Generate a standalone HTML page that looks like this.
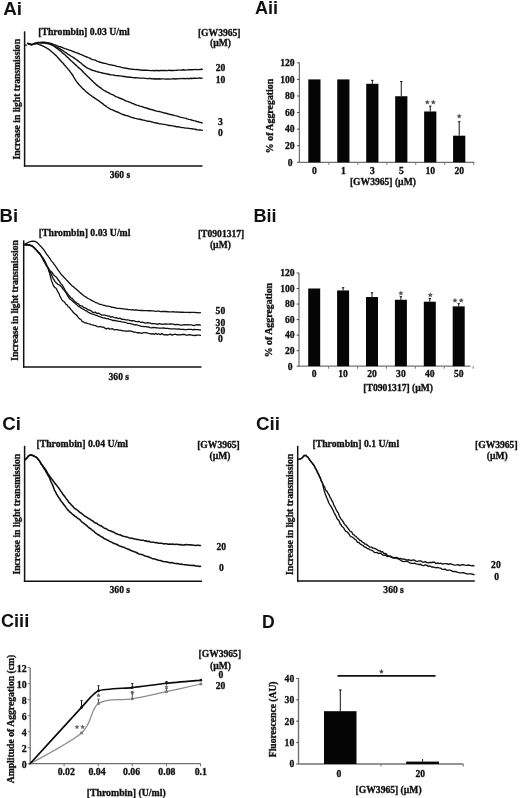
<!DOCTYPE html>
<html><head><meta charset="utf-8"><style>
html,body{margin:0;padding:0;background:#fff;}
body{width:520px;height:798px;overflow:hidden;}
svg{display:block;filter:blur(0.35px);}
</style></head><body>
<svg width="520" height="798" viewBox="0 0 520 798">
<rect width="520" height="798" fill="#fff"/>
<text x="0" y="0" font-family='"Liberation Sans", sans-serif' font-weight="bold" font-size="17.6" text-anchor="start" fill="#111" transform="translate(3.2 14.5) scale(1.07 1)">Ai</text>
<text x="0" y="0" font-family='"Liberation Sans", sans-serif' font-weight="bold" font-size="17.6" text-anchor="start" fill="#111" transform="translate(255.0 14.2) scale(1.03 1)">Aii</text>
<text x="0" y="0" font-family='"Liberation Sans", sans-serif' font-weight="bold" font-size="17.6" text-anchor="start" fill="#111" transform="translate(-0.4 222.3) scale(1.05 1)">Bi</text>
<text x="0" y="0" font-family='"Liberation Sans", sans-serif' font-weight="bold" font-size="17.6" text-anchor="start" fill="#111" transform="translate(253.4 222.3) scale(1.03 1)">Bii</text>
<text x="0" y="0" font-family='"Liberation Sans", sans-serif' font-weight="bold" font-size="17.6" text-anchor="start" fill="#111" transform="translate(2.2 429.6) scale(1.06 1)">Ci</text>
<text x="0" y="0" font-family='"Liberation Sans", sans-serif' font-weight="bold" font-size="17.6" text-anchor="start" fill="#111" transform="translate(255.9 429.6) scale(1.07 1)">Cii</text>
<text x="0" y="0" font-family='"Liberation Sans", sans-serif' font-weight="bold" font-size="17.6" text-anchor="start" fill="#111" transform="translate(1.0 626.7) scale(1.03 1)">Ciii</text>
<text x="261.9" y="627.6" font-family='"Liberation Sans", sans-serif' font-weight="bold" font-size="17.6" text-anchor="start" fill="#111">D</text>
<line x1="24.6" y1="31.3" x2="24.6" y2="166.7" stroke="#111" stroke-width="1.5"/>
<line x1="23.900000000000002" y1="166.0" x2="202.5" y2="166.0" stroke="#111" stroke-width="1.5"/>
<text x="38.2" y="34.8" font-family='"Liberation Serif", serif' font-weight="bold" font-size="9.75" text-anchor="start" fill="#111" stroke="#111" stroke-width="0.32">[Thrombin] 0.03 U/ml</text>
<text x="219.2" y="35.8" font-family='"Liberation Serif", serif' font-weight="bold" font-size="9.6" text-anchor="middle" fill="#111" stroke="#111" stroke-width="0.32">[GW3965]</text>
<text x="220.6" y="46.3" font-family='"Liberation Serif", serif' font-weight="bold" font-size="9.6" text-anchor="middle" fill="#111" stroke="#111" stroke-width="0.32">(µM)</text>
<text x="19.7" y="99.3" font-family='"Liberation Serif", serif' font-weight="bold" font-size="9.6" text-anchor="middle" fill="#111" stroke="#111" stroke-width="0.32" transform="rotate(-90 19.7 99.3)">Increase in light transmission</text>
<text x="120.0" y="178.2" font-family='"Liberation Serif", serif' font-weight="bold" font-size="9.6" text-anchor="middle" fill="#111" stroke="#111" stroke-width="0.32">360 s</text>
<line x1="24.6" y1="45.1" x2="27.2" y2="45.1" stroke="#111" stroke-width="1.2"/>
<path d="M27.80,43.40 L29.37,43.95 L31.50,44.74 L32.96,44.35 L34.51,43.47 L36.00,43.00 L37.73,42.49 L40.00,42.36 L41.38,42.39 L42.96,42.09 L44.73,42.12 L46.68,42.64 L48.80,42.87 L50.06,43.33 L51.39,43.43 L52.78,44.07 L54.23,44.69 L55.72,45.05 L57.25,45.91 L58.81,46.48 L60.40,46.73 L62.00,47.31 L63.32,47.99 L64.66,48.63 L66.01,48.90 L67.38,49.33 L68.77,49.92 L70.19,50.28 L71.63,50.89 L73.10,51.52 L74.60,52.11 L76.13,52.59 L77.70,53.19 L79.08,53.73 L80.52,54.40 L82.02,54.95 L83.55,55.47 L85.11,56.44 L86.68,56.98 L88.25,57.67 L89.80,58.12 L91.33,59.07 L92.81,59.61 L94.25,59.87 L95.61,60.47 L96.90,61.09 L98.59,61.66 L100.10,62.24 L101.49,62.45 L102.81,62.98 L104.09,63.25 L105.41,63.43 L106.80,63.87 L108.31,64.35 L110.00,64.74 L111.28,64.91 L112.62,65.27 L114.01,65.40 L115.45,65.83 L116.94,66.41 L118.45,66.61 L119.98,66.87 L121.53,67.37 L123.09,67.76 L124.64,68.07 L126.18,68.24 L127.70,68.54 L129.20,68.80 L130.81,69.14 L132.41,69.24 L134.02,69.38 L135.63,69.58 L137.24,69.54 L138.85,69.68 L140.46,70.06 L142.07,70.27 L143.68,70.21 L145.29,70.21 L146.89,70.20 L148.50,70.40 L150.05,70.65 L151.53,70.61 L152.95,70.55 L154.34,70.70 L155.73,70.46 L157.14,70.57 L158.61,70.73 L160.16,70.56 L161.82,70.49 L163.61,70.38 L165.56,70.46 L167.70,70.58 L168.93,70.18 L170.27,70.46 L171.71,70.44 L173.24,70.43 L174.84,70.33 L176.50,70.31 L178.21,70.14 L179.96,70.11 L181.74,70.01 L183.52,69.80 L185.31,70.08 L187.09,69.90 L188.84,69.70 L190.55,69.77 L192.22,69.71 L193.82,69.61 L195.35,69.55 L196.80,69.58 L198.14,69.58 L199.38,69.53 L200.49,69.44 L201.47,69.24 L202.30,69.40 " fill="none" stroke="#111" stroke-width="1.4" stroke-linejoin="round" stroke-linecap="round"/>
<path d="M27.80,43.40 L29.37,44.27 L31.50,44.78 L32.96,44.12 L34.51,43.54 L36.00,43.33 L37.73,42.86 L40.00,42.67 L41.44,42.53 L43.13,42.67 L44.98,42.77 L46.91,42.99 L48.80,43.26 L50.15,43.84 L51.54,44.42 L52.96,45.24 L54.38,46.10 L55.79,46.86 L57.17,47.47 L58.50,48.18 L59.96,48.94 L61.34,49.68 L62.69,50.52 L64.05,51.57 L65.47,52.43 L67.00,53.45 L68.23,54.45 L69.50,55.13 L70.82,56.01 L72.16,56.76 L73.53,57.59 L74.92,58.64 L76.31,59.50 L77.70,60.60 L78.91,61.68 L80.09,62.48 L81.26,63.24 L82.44,64.50 L83.65,65.43 L84.91,66.36 L86.24,67.33 L87.66,68.13 L89.20,68.92 L90.42,69.28 L91.69,70.03 L92.99,70.50 L94.34,70.63 L95.72,71.30 L97.15,71.69 L98.62,71.98 L100.12,72.39 L101.66,72.74 L103.24,73.27 L104.85,73.45 L106.50,73.93 L107.86,74.01 L109.28,74.49 L110.75,74.76 L112.25,74.84 L113.79,75.12 L115.35,75.50 L116.93,75.65 L118.52,75.78 L120.11,75.89 L121.69,76.13 L123.25,76.48 L124.79,76.46 L126.30,76.93 L127.77,76.85 L129.20,77.26 L130.93,77.21 L132.61,77.64 L134.27,77.69 L135.89,77.74 L137.49,77.87 L139.07,78.04 L140.64,78.11 L142.20,78.10 L143.76,78.14 L145.33,78.35 L146.91,78.59 L148.50,78.55 L150.05,78.41 L151.53,78.78 L152.95,78.81 L154.34,78.95 L155.73,78.72 L157.14,78.99 L158.61,78.76 L160.16,79.03 L161.82,78.90 L163.61,78.90 L165.56,79.16 L167.70,78.84 L168.93,79.00 L170.27,79.11 L171.71,78.84 L173.24,78.80 L174.84,79.03 L176.50,78.81 L178.21,78.89 L179.96,78.57 L181.74,78.65 L183.52,78.53 L185.31,78.68 L187.09,78.39 L188.84,78.69 L190.55,78.26 L192.22,78.49 L193.82,78.16 L195.35,78.21 L196.80,78.39 L198.14,78.08 L199.38,78.06 L200.49,78.23 L201.47,78.08 L202.30,78.10 " fill="none" stroke="#111" stroke-width="1.4" stroke-linejoin="round" stroke-linecap="round"/>
<path d="M27.80,43.40 L29.37,43.98 L31.50,44.62 L32.96,44.26 L34.51,43.79 L36.00,43.35 L37.73,42.84 L40.00,42.81 L41.44,43.15 L43.13,42.91 L44.98,42.98 L46.91,43.51 L48.80,43.79 L50.06,44.38 L51.23,44.70 L52.40,45.31 L53.63,45.79 L55.01,46.86 L56.61,48.09 L58.50,49.41 L59.38,50.21 L60.32,50.96 L61.32,51.57 L62.36,52.75 L63.45,53.64 L64.57,54.52 L65.73,55.45 L66.91,56.86 L68.11,57.80 L69.32,59.01 L70.54,60.20 L71.76,61.27 L72.98,62.48 L74.19,63.40 L75.38,64.67 L76.56,65.62 L77.70,66.87 L78.84,67.92 L80.00,68.71 L81.17,69.85 L82.35,71.03 L83.53,72.49 L84.72,73.45 L85.91,74.70 L87.09,75.74 L88.27,76.98 L89.43,78.07 L90.57,79.17 L91.70,80.34 L92.80,81.38 L93.88,82.51 L94.92,83.36 L95.93,84.35 L96.90,85.14 L98.43,86.44 L99.81,87.39 L101.09,88.13 L102.29,89.25 L103.45,90.04 L104.61,90.73 L105.81,91.28 L107.09,92.04 L108.47,92.57 L110.00,93.63 L111.18,94.15 L112.42,94.65 L113.71,95.20 L115.04,96.15 L116.40,96.84 L117.80,97.11 L119.21,98.03 L120.64,98.51 L122.09,99.02 L123.53,99.70 L124.97,100.49 L126.40,101.12 L127.81,101.36 L129.20,102.15 L130.68,102.50 L132.16,103.34 L133.65,103.75 L135.13,104.51 L136.62,105.09 L138.11,105.42 L139.59,106.14 L141.08,106.36 L142.57,106.76 L144.05,107.46 L145.54,107.70 L147.02,108.23 L148.50,108.76 L149.94,109.27 L151.31,109.47 L152.62,109.78 L153.91,110.45 L155.19,110.55 L156.49,111.12 L157.81,111.41 L159.20,111.54 L160.66,111.92 L162.22,112.32 L163.90,112.78 L165.72,113.23 L167.70,113.72 L168.93,114.07 L170.27,114.55 L171.71,114.76 L173.24,115.13 L174.84,115.67 L176.50,115.92 L178.21,116.40 L179.96,117.14 L181.74,117.43 L183.52,117.91 L185.31,118.17 L187.09,118.81 L188.84,119.34 L190.55,119.57 L192.22,120.26 L193.82,120.69 L195.35,120.87 L196.80,121.48 L198.14,121.78 L199.38,122.19 L200.49,122.36 L201.47,122.76 L202.30,122.90 " fill="none" stroke="#111" stroke-width="1.4" stroke-linejoin="round" stroke-linecap="round"/>
<path d="M27.80,43.40 L29.37,43.94 L31.50,44.44 L32.99,44.39 L34.57,43.90 L36.00,43.63 L37.49,43.82 L39.20,44.57 L40.47,45.01 L41.93,45.62 L43.57,46.22 L45.40,47.41 L46.50,47.99 L47.63,48.63 L48.81,49.34 L50.07,50.24 L51.43,51.55 L52.93,52.78 L54.60,54.32 L55.46,55.18 L56.40,55.90 L57.41,57.00 L58.46,58.26 L59.56,59.50 L60.68,60.78 L61.82,62.07 L62.96,63.04 L64.10,64.54 L65.21,65.84 L66.28,67.03 L67.31,68.11 L68.28,69.39 L69.18,70.33 L70.00,71.67 L71.18,73.19 L72.19,74.50 L73.07,75.75 L73.85,77.27 L74.57,78.36 L75.28,79.67 L76.01,80.82 L76.80,81.84 L77.70,82.97 L78.66,84.20 L79.63,85.25 L80.61,86.23 L81.62,87.36 L82.66,88.62 L83.74,89.36 L84.87,90.40 L86.05,91.69 L87.30,92.61 L88.40,93.60 L89.58,94.48 L90.82,95.35 L92.10,96.53 L93.41,97.12 L94.73,98.12 L96.04,98.92 L97.32,99.96 L98.55,100.66 L99.72,101.49 L100.80,102.40 L102.25,103.31 L103.45,104.37 L104.52,105.40 L105.58,105.93 L106.77,106.77 L108.20,107.73 L110.00,108.91 L111.15,109.41 L112.40,109.84 L113.75,110.49 L115.17,111.05 L116.65,111.79 L118.19,112.26 L119.76,113.15 L121.35,113.85 L122.96,114.49 L124.56,114.99 L126.14,115.65 L127.69,115.81 L129.20,116.42 L130.68,117.15 L132.16,117.52 L133.65,117.79 L135.13,118.40 L136.62,118.65 L138.11,119.09 L139.59,119.23 L141.08,119.53 L142.57,119.96 L144.05,120.17 L145.54,120.59 L147.02,121.15 L148.50,121.23 L149.94,121.43 L151.31,121.75 L152.62,122.10 L153.91,122.64 L155.19,122.75 L156.49,123.00 L157.81,123.20 L159.20,123.84 L160.66,123.90 L162.22,124.11 L163.90,124.36 L165.72,124.68 L167.70,125.07 L168.93,125.48 L170.27,125.48 L171.71,125.67 L173.24,126.09 L174.84,126.24 L176.50,126.79 L178.21,126.70 L179.96,127.13 L181.74,127.49 L183.52,127.61 L185.31,128.11 L187.09,128.17 L188.84,128.33 L190.55,128.65 L192.22,128.74 L193.82,129.13 L195.35,129.28 L196.80,129.75 L198.14,129.92 L199.38,129.97 L200.49,129.94 L201.47,130.18 L202.30,130.40 " fill="none" stroke="#111" stroke-width="1.4" stroke-linejoin="round" stroke-linecap="round"/>
<text x="220.6" y="71.0" font-family='"Liberation Serif", serif' font-weight="bold" font-size="9.6" text-anchor="middle" fill="#111" stroke="#111" stroke-width="0.32">20</text>
<text x="220.6" y="83.0" font-family='"Liberation Serif", serif' font-weight="bold" font-size="9.6" text-anchor="middle" fill="#111" stroke="#111" stroke-width="0.32">10</text>
<text x="220.4" y="124.8" font-family='"Liberation Serif", serif' font-weight="bold" font-size="9.6" text-anchor="middle" fill="#111" stroke="#111" stroke-width="0.32">3</text>
<text x="220.4" y="136.4" font-family='"Liberation Serif", serif' font-weight="bold" font-size="9.6" text-anchor="middle" fill="#111" stroke="#111" stroke-width="0.32">0</text>
<line x1="23.7" y1="240.3" x2="23.7" y2="367.7" stroke="#111" stroke-width="1.5"/>
<line x1="23.0" y1="367.0" x2="201.5" y2="367.0" stroke="#111" stroke-width="1.5"/>
<text x="38.8" y="236.2" font-family='"Liberation Serif", serif' font-weight="bold" font-size="9.75" text-anchor="start" fill="#111" stroke="#111" stroke-width="0.32">[Thrombin] 0.03 U/ml</text>
<text x="221.1" y="237.4" font-family='"Liberation Serif", serif' font-weight="bold" font-size="9.6" text-anchor="middle" fill="#111" stroke="#111" stroke-width="0.32">[T0901317]</text>
<text x="220.4" y="247.9" font-family='"Liberation Serif", serif' font-weight="bold" font-size="9.6" text-anchor="middle" fill="#111" stroke="#111" stroke-width="0.32">(µM)</text>
<text x="18.4" y="300.5" font-family='"Liberation Serif", serif' font-weight="bold" font-size="9.6" text-anchor="middle" fill="#111" stroke="#111" stroke-width="0.32" transform="rotate(-90 18.4 300.5)">Increase in light transmission</text>
<text x="118.8" y="379.6" font-family='"Liberation Serif", serif' font-weight="bold" font-size="9.6" text-anchor="middle" fill="#111" stroke="#111" stroke-width="0.32">360 s</text>
<path d="M24.20,244.60 L25.97,243.62 L28.10,242.50 L29.54,241.83 L31.00,241.48 L32.89,241.10 L35.00,241.47 L36.51,242.04 L38.10,243.56 L39.60,245.18 L40.96,246.46 L42.23,248.06 L43.50,249.35 L44.38,250.69 L45.19,251.80 L46.11,253.30 L47.30,255.03 L48.06,255.86 L48.92,257.12 L49.86,258.43 L50.85,260.03 L51.85,261.33 L52.83,262.42 L53.75,263.95 L54.60,264.86 L55.60,266.47 L56.51,267.62 L57.37,268.84 L58.21,270.43 L59.08,271.37 L60.00,272.59 L60.99,274.10 L62.01,275.23 L63.06,276.16 L64.11,277.57 L65.16,278.52 L66.20,279.67 L67.41,280.77 L68.61,282.31 L69.81,283.44 L71.03,284.76 L72.30,285.96 L73.42,286.76 L74.58,287.84 L75.77,288.82 L76.95,289.84 L78.10,290.80 L79.20,291.82 L80.61,293.16 L81.86,294.01 L83.22,295.36 L85.00,296.44 L86.11,297.12 L87.35,298.09 L88.69,298.75 L90.09,299.50 L91.54,300.36 L92.99,301.22 L94.42,301.68 L95.80,302.69 L97.27,302.94 L98.64,303.79 L99.98,304.33 L101.37,304.47 L102.88,305.22 L104.56,305.49 L106.50,306.03 L107.75,306.08 L109.07,306.37 L110.46,306.71 L111.90,307.30 L113.40,307.27 L114.95,307.76 L116.54,308.10 L118.17,308.36 L119.84,308.37 L121.54,308.61 L123.26,308.90 L125.00,309.21 L126.43,309.10 L127.92,309.50 L129.45,309.66 L131.02,309.82 L132.62,309.61 L134.25,310.10 L135.88,309.87 L137.53,310.08 L139.17,310.29 L140.80,310.51 L142.41,310.38 L144.00,310.70 L145.54,310.64 L147.05,310.64 L148.50,310.73 L150.21,310.77 L151.79,310.83 L153.29,310.94 L154.72,311.23 L156.12,311.43 L157.53,311.16 L158.96,311.18 L160.46,311.62 L162.05,311.50 L163.77,311.52 L165.64,311.52 L167.70,311.74 L169.00,311.88 L170.42,311.78 L171.95,311.82 L173.57,311.72 L175.26,312.12 L177.01,311.82 L178.81,312.06 L180.64,312.25 L182.49,312.03 L184.33,312.32 L186.16,312.46 L187.97,312.39 L189.72,312.50 L191.42,312.28 L193.05,312.46 L194.58,312.39 L196.01,312.71 L197.33,312.53 L198.50,312.62 L199.53,312.87 L200.40,312.70 " fill="none" stroke="#111" stroke-width="1.3" stroke-linejoin="round" stroke-linecap="round"/>
<path d="M24.20,244.60 L25.46,244.93 L27.24,245.01 L29.00,244.88 L30.55,245.14 L32.06,245.56 L33.50,247.18 L34.83,248.09 L36.08,249.73 L37.30,250.66 L38.48,252.34 L39.62,253.08 L40.80,255.33 L41.52,256.57 L42.22,257.73 L42.95,259.49 L43.73,261.30 L44.60,262.36 L45.41,264.06 L46.28,265.66 L47.20,266.39 L48.14,268.29 L49.08,269.41 L50.00,270.78 L51.07,271.52 L52.13,272.43 L53.19,274.35 L54.28,275.54 L55.40,276.44 L56.38,277.23 L57.41,278.59 L58.45,280.35 L59.49,281.29 L60.52,283.35 L61.50,284.30 L62.43,285.26 L63.33,287.20 L64.20,288.35 L65.07,290.43 L65.97,291.82 L66.90,292.72 L67.88,294.13 L68.90,295.42 L69.94,296.73 L70.99,298.05 L72.01,298.08 L73.00,299.45 L74.25,300.97 L75.34,301.68 L76.63,303.03 L78.50,303.75 L79.58,305.30 L80.79,305.67 L82.10,306.02 L83.51,307.46 L84.98,307.92 L86.51,308.62 L88.06,309.74 L89.64,310.12 L91.20,310.88 L92.61,312.16 L94.04,312.51 L95.50,312.25 L96.98,313.57 L98.49,313.19 L100.02,313.97 L101.59,315.02 L103.19,315.12 L104.83,315.18 L106.50,315.67 L107.91,316.01 L109.34,316.03 L110.78,317.29 L112.24,316.54 L113.73,317.23 L115.24,317.86 L116.78,317.75 L118.34,318.67 L119.95,318.14 L121.59,319.23 L123.27,319.43 L125.00,319.49 L126.43,319.99 L127.92,319.77 L129.45,320.48 L131.02,320.74 L132.62,320.73 L134.25,320.98 L135.88,321.54 L137.53,321.51 L139.17,321.44 L140.80,322.45 L142.41,322.18 L144.00,322.68 L145.54,323.23 L147.05,322.76 L148.50,322.77 L150.21,323.07 L151.79,323.73 L153.29,323.59 L154.72,323.56 L156.12,323.84 L157.53,324.41 L158.96,323.71 L160.46,323.91 L162.05,324.46 L163.77,324.20 L165.64,323.88 L167.70,324.17 L169.00,324.22 L170.42,323.90 L171.95,324.21 L173.57,324.19 L175.26,324.79 L177.01,324.31 L178.81,324.74 L180.64,325.14 L182.49,325.14 L184.33,324.59 L186.16,324.90 L187.97,324.64 L189.72,324.78 L191.42,324.92 L193.05,325.31 L194.58,325.51 L196.01,324.84 L197.33,324.57 L198.50,325.09 L199.53,324.69 L200.40,325.20 " fill="none" stroke="#111" stroke-width="1.3" stroke-linejoin="round" stroke-linecap="round"/>
<path d="M24.20,244.60 L25.46,244.53 L27.24,244.50 L29.00,245.09 L30.55,245.31 L32.06,246.36 L33.50,247.22 L34.74,248.12 L35.91,249.67 L37.30,251.02 L38.16,252.25 L39.12,253.14 L40.13,254.34 L41.16,255.80 L42.16,257.35 L43.10,258.27 L43.96,259.69 L44.77,261.33 L45.55,262.96 L46.33,264.25 L47.14,265.74 L48.00,267.79 L48.69,268.64 L49.43,270.70 L50.19,272.01 L50.96,273.61 L51.72,275.25 L52.46,276.91 L53.16,278.61 L53.80,279.41 L54.93,281.38 L55.92,282.60 L56.83,283.32 L57.70,284.23 L59.21,284.98 L60.80,286.14 L61.86,287.35 L63.06,289.01 L64.27,290.36 L65.40,291.79 L66.33,293.43 L67.15,294.88 L68.04,296.33 L69.20,298.18 L70.22,299.18 L71.41,300.02 L72.70,301.33 L73.99,302.37 L75.18,303.57 L76.20,304.34 L77.43,305.22 L78.30,306.44 L80.00,307.07 L81.02,307.89 L82.18,308.81 L83.48,309.24 L84.88,310.27 L86.37,310.85 L87.94,312.06 L89.55,312.92 L91.20,313.54 L92.55,314.28 L93.95,314.48 L95.39,315.23 L96.87,315.68 L98.39,316.17 L99.95,316.59 L101.55,317.30 L103.17,317.84 L104.82,318.02 L106.50,318.60 L107.91,318.61 L109.34,319.36 L110.78,319.69 L112.24,320.25 L113.73,320.49 L115.24,320.51 L116.78,320.91 L118.34,321.42 L119.95,321.37 L121.59,321.97 L123.27,322.15 L125.00,322.47 L126.43,322.73 L127.92,323.46 L129.45,323.39 L131.02,323.79 L132.62,324.20 L134.25,324.81 L135.88,324.66 L137.53,325.20 L139.17,325.58 L140.80,326.08 L142.41,326.33 L144.00,326.63 L145.54,326.53 L147.05,326.84 L148.50,327.02 L150.21,327.55 L151.79,327.78 L153.29,327.45 L154.72,327.59 L156.12,327.73 L157.53,327.82 L158.96,328.05 L160.46,328.19 L162.05,328.07 L163.77,328.00 L165.64,328.34 L167.70,328.42 L169.00,328.61 L170.42,328.92 L171.95,328.84 L173.57,328.81 L175.26,328.95 L177.01,329.07 L178.81,328.78 L180.64,329.37 L182.49,329.38 L184.33,329.52 L186.16,329.56 L187.97,329.39 L189.72,329.47 L191.42,329.37 L193.05,329.76 L194.58,329.48 L196.01,329.55 L197.33,329.69 L198.50,329.71 L199.53,329.86 L200.40,330.00 " fill="none" stroke="#111" stroke-width="1.3" stroke-linejoin="round" stroke-linecap="round"/>
<path d="M24.20,244.60 L25.46,244.31 L27.24,245.27 L29.00,244.55 L30.55,245.81 L32.06,245.84 L33.50,247.00 L34.74,248.99 L35.91,249.32 L37.30,251.47 L38.17,252.25 L39.14,253.36 L40.17,254.61 L41.21,255.52 L42.20,257.58 L43.10,258.01 L43.92,259.55 L44.70,260.76 L45.43,262.56 L46.11,264.22 L46.74,266.21 L47.30,266.85 L47.97,268.11 L48.48,269.61 L48.92,271.79 L49.40,272.18 L49.82,274.29 L50.23,275.60 L50.65,277.58 L51.07,278.78 L51.50,280.63 L52.19,282.37 L52.91,284.26 L53.80,286.28 L54.66,287.20 L55.66,287.93 L56.69,289.17 L57.70,291.74 L58.45,292.60 L59.18,293.82 L59.92,296.35 L60.68,297.48 L61.50,299.07 L62.60,300.76 L63.77,301.38 L64.98,302.73 L66.20,304.65 L67.26,304.95 L68.22,306.79 L69.43,307.28 L71.20,309.83 L72.03,310.73 L72.95,312.06 L73.95,313.08 L75.01,313.89 L76.13,314.80 L77.29,316.02 L78.50,317.74 L79.73,318.93 L80.98,319.52 L82.24,321.53 L83.50,321.91 L84.91,322.92 L86.37,323.00 L87.87,323.59 L89.40,323.78 L90.96,324.59 L92.53,324.86 L94.11,325.38 L95.69,325.65 L97.25,326.54 L98.80,326.97 L100.34,326.49 L101.88,327.11 L103.43,327.18 L104.97,328.10 L106.52,328.79 L108.06,328.16 L109.61,329.13 L111.14,328.84 L112.68,328.76 L114.20,329.92 L115.70,329.65 L117.16,329.66 L118.59,330.18 L120.02,330.12 L121.46,330.51 L122.91,330.73 L124.40,330.86 L125.93,331.24 L127.53,331.06 L129.20,331.01 L130.66,331.17 L132.17,331.37 L133.72,332.04 L135.32,332.03 L136.94,332.75 L138.59,332.57 L140.25,332.99 L141.91,333.49 L143.58,332.55 L145.24,332.65 L146.88,332.94 L148.50,333.36 L150.06,333.70 L151.55,334.01 L152.99,333.62 L154.41,334.44 L155.82,333.35 L157.26,334.42 L158.75,333.73 L160.30,334.58 L161.95,333.63 L163.72,334.82 L165.63,334.64 L167.70,334.99 L169.00,334.54 L170.42,334.11 L171.95,335.11 L173.57,334.53 L175.26,334.15 L177.01,334.83 L178.81,334.76 L180.64,334.79 L182.49,334.46 L184.33,334.48 L186.16,335.08 L187.97,334.98 L189.72,334.64 L191.42,335.06 L193.05,335.45 L194.58,335.49 L196.01,335.24 L197.33,335.18 L198.50,335.18 L199.53,335.04 L200.40,335.40 " fill="none" stroke="#111" stroke-width="1.3" stroke-linejoin="round" stroke-linecap="round"/>
<text x="220.4" y="314.4" font-family='"Liberation Serif", serif' font-weight="bold" font-size="9.6" text-anchor="middle" fill="#111" stroke="#111" stroke-width="0.32">50</text>
<text x="220.4" y="326.2" font-family='"Liberation Serif", serif' font-weight="bold" font-size="9.6" text-anchor="middle" fill="#111" stroke="#111" stroke-width="0.32">30</text>
<text x="220.4" y="334.2" font-family='"Liberation Serif", serif' font-weight="bold" font-size="9.6" text-anchor="middle" fill="#111" stroke="#111" stroke-width="0.32">20</text>
<text x="220.3" y="342.1" font-family='"Liberation Serif", serif' font-weight="bold" font-size="9.6" text-anchor="middle" fill="#111" stroke="#111" stroke-width="0.32">0</text>
<line x1="24.6" y1="445.8" x2="24.6" y2="581.9000000000001" stroke="#111" stroke-width="1.5"/>
<line x1="23.900000000000002" y1="581.2" x2="202.0" y2="581.2" stroke="#111" stroke-width="1.5"/>
<text x="36.4" y="446.6" font-family='"Liberation Serif", serif' font-weight="bold" font-size="9.75" text-anchor="start" fill="#111" stroke="#111" stroke-width="0.32">[Thrombin] 0.04 U/ml</text>
<text x="218.5" y="448.3" font-family='"Liberation Serif", serif' font-weight="bold" font-size="9.6" text-anchor="middle" fill="#111" stroke="#111" stroke-width="0.32">[GW3965]</text>
<text x="220.0" y="458.8" font-family='"Liberation Serif", serif' font-weight="bold" font-size="9.6" text-anchor="middle" fill="#111" stroke="#111" stroke-width="0.32">(µM)</text>
<text x="19.6" y="514.2" font-family='"Liberation Serif", serif' font-weight="bold" font-size="9.6" text-anchor="middle" fill="#111" stroke="#111" stroke-width="0.32" transform="rotate(-90 19.6 514.2)">Increase in light transmission</text>
<text x="119.8" y="592.6" font-family='"Liberation Serif", serif' font-weight="bold" font-size="9.6" text-anchor="middle" fill="#111" stroke="#111" stroke-width="0.32">360 s</text>
<path d="M25.20,459.60 L25.94,458.95 L27.00,457.92 L28.15,456.25 L29.60,455.42 L31.62,454.84 L33.80,455.80 L35.13,456.77 L36.42,457.28 L37.70,458.83 L38.65,460.05 L39.60,461.08 L40.55,462.73 L41.50,464.32 L42.45,465.46 L43.40,466.89 L44.37,467.85 L45.40,469.34 L46.19,470.45 L46.93,471.87 L47.74,473.40 L48.72,474.71 L50.00,476.66 L50.71,477.41 L51.49,478.71 L52.34,479.47 L53.24,480.81 L54.18,482.30 L55.15,483.63 L56.14,484.77 L57.13,485.90 L58.11,487.32 L59.07,488.57 L60.00,489.87 L60.91,491.43 L61.82,492.34 L62.73,494.04 L63.64,495.33 L64.55,496.12 L65.45,497.60 L66.36,498.92 L67.27,499.86 L68.18,501.27 L69.09,502.69 L70.00,503.27 L71.22,504.89 L72.38,505.82 L73.53,507.21 L74.69,508.46 L75.88,509.07 L77.15,509.99 L78.51,511.11 L80.00,512.52 L81.08,513.02 L82.24,513.89 L83.46,515.00 L84.72,516.12 L86.02,516.70 L87.34,517.56 L88.67,518.58 L90.00,519.11 L91.31,520.24 L92.59,520.80 L93.82,521.83 L95.00,522.77 L96.50,523.15 L97.95,524.32 L99.35,525.17 L100.73,525.69 L102.08,526.52 L103.43,527.69 L104.77,528.40 L106.12,528.58 L107.50,529.62 L108.89,530.46 L110.28,530.70 L111.67,531.59 L113.06,531.88 L114.44,532.69 L115.83,533.47 L117.22,534.00 L118.61,534.65 L120.00,534.75 L121.58,535.45 L123.19,536.27 L124.81,536.58 L126.42,536.95 L128.01,537.33 L129.56,538.08 L131.07,538.20 L132.50,538.21 L134.16,539.07 L135.54,539.10 L136.86,539.43 L138.29,539.56 L140.04,539.99 L142.30,540.29 L143.46,540.35 L144.73,540.88 L146.09,540.80 L147.53,541.45 L149.03,541.24 L150.59,541.95 L152.19,542.23 L153.82,542.30 L155.47,542.68 L157.12,542.64 L158.76,543.17 L160.38,543.19 L161.96,543.27 L163.50,543.88 L165.02,543.69 L166.57,543.80 L168.12,544.21 L169.69,544.02 L171.26,544.30 L172.82,544.08 L174.38,544.56 L175.93,544.28 L177.45,544.22 L178.95,544.84 L180.42,544.42 L181.86,544.94 L183.25,545.03 L184.60,544.86 L186.47,544.60 L188.37,544.72 L190.25,544.89 L192.10,545.08 L193.87,545.29 L195.53,545.57 L197.06,545.27 L198.42,545.20 L199.58,545.50 L200.50,545.50 " fill="none" stroke="#111" stroke-width="1.55" stroke-linejoin="round" stroke-linecap="round"/>
<path d="M25.20,459.60 L25.94,459.02 L27.00,457.96 L28.15,456.51 L29.60,455.02 L31.62,455.33 L33.80,455.99 L35.13,456.63 L36.42,457.33 L37.70,458.81 L38.65,459.85 L39.60,461.12 L40.55,462.98 L41.50,464.50 L42.26,465.14 L43.02,466.89 L43.78,468.05 L44.57,469.29 L45.40,470.67 L46.12,472.14 L46.87,473.25 L47.63,474.67 L48.41,476.02 L49.20,477.17 L50.00,479.16 L50.60,480.62 L51.19,482.06 L51.79,483.37 L52.40,484.60 L53.02,486.16 L53.65,487.81 L54.31,489.82 L55.00,490.88 L55.70,492.28 L56.42,493.91 L57.14,494.84 L57.89,496.23 L58.67,497.41 L59.48,498.43 L60.34,500.01 L61.25,501.46 L62.11,502.23 L63.00,503.49 L63.94,504.85 L64.90,505.87 L65.89,507.38 L66.90,508.79 L67.92,509.88 L68.96,510.94 L70.00,512.21 L71.19,512.92 L72.41,514.22 L73.66,515.10 L74.92,516.20 L76.20,516.85 L77.47,518.19 L78.74,518.75 L80.00,519.80 L81.23,521.22 L82.44,522.35 L83.64,523.09 L84.84,524.14 L86.07,525.10 L87.32,526.19 L88.63,527.48 L90.00,528.31 L91.15,529.16 L92.34,530.29 L93.57,531.05 L94.82,532.29 L96.09,533.33 L97.38,534.24 L98.67,534.97 L99.96,535.78 L101.24,536.67 L102.50,537.20 L103.88,538.44 L105.23,538.97 L106.57,539.68 L107.92,540.21 L109.27,541.09 L110.65,541.82 L112.05,542.35 L113.50,543.29 L115.00,543.85 L116.40,544.22 L117.84,545.02 L119.32,545.88 L120.82,546.27 L122.34,546.95 L123.88,547.26 L125.42,548.14 L126.96,548.74 L128.49,549.33 L130.00,549.95 L131.48,550.66 L132.94,551.25 L134.39,551.83 L135.83,552.25 L137.28,553.02 L138.75,553.94 L140.24,554.21 L141.78,554.57 L143.36,555.13 L145.00,556.02 L146.41,556.20 L147.85,556.70 L149.32,557.19 L150.81,557.87 L152.33,558.66 L153.87,558.82 L155.43,559.25 L157.01,559.68 L158.61,560.14 L160.23,560.51 L161.86,561.07 L163.50,561.54 L164.94,561.72 L166.42,561.83 L167.94,562.24 L169.49,562.66 L171.06,562.45 L172.63,562.74 L174.21,563.20 L175.78,563.46 L177.34,563.64 L178.87,563.81 L180.38,564.15 L181.84,564.13 L183.25,564.51 L184.60,564.78 L186.47,564.70 L188.37,565.18 L190.25,565.30 L192.10,565.60 L193.87,565.28 L195.53,565.96 L197.06,566.02 L198.42,566.27 L199.58,566.39 L200.50,566.20 " fill="none" stroke="#111" stroke-width="1.55" stroke-linejoin="round" stroke-linecap="round"/>
<text x="221.2" y="550.0" font-family='"Liberation Serif", serif' font-weight="bold" font-size="9.6" text-anchor="middle" fill="#111" stroke="#111" stroke-width="0.32">20</text>
<text x="221.3" y="570.9" font-family='"Liberation Serif", serif' font-weight="bold" font-size="9.6" text-anchor="middle" fill="#111" stroke="#111" stroke-width="0.32">0</text>
<line x1="297.7" y1="445.8" x2="297.7" y2="581.6" stroke="#111" stroke-width="1.5"/>
<line x1="297.0" y1="580.9" x2="474.8" y2="580.9" stroke="#111" stroke-width="1.5"/>
<text x="312.4" y="447.3" font-family='"Liberation Serif", serif' font-weight="bold" font-size="9.75" text-anchor="start" fill="#111" stroke="#111" stroke-width="0.32">[Thrombin] 0.1 U/ml</text>
<text x="496.3" y="448.4" font-family='"Liberation Serif", serif' font-weight="bold" font-size="9.6" text-anchor="middle" fill="#111" stroke="#111" stroke-width="0.32">[GW3965]</text>
<text x="497.3" y="458.9" font-family='"Liberation Serif", serif' font-weight="bold" font-size="9.6" text-anchor="middle" fill="#111" stroke="#111" stroke-width="0.32">(µM)</text>
<text x="293.0" y="514.4" font-family='"Liberation Serif", serif' font-weight="bold" font-size="9.65" text-anchor="middle" fill="#111" stroke="#111" stroke-width="0.32" transform="rotate(-90 293.0 514.4)">Increase in light transmission</text>
<text x="393.6" y="593.4" font-family='"Liberation Serif", serif' font-weight="bold" font-size="9.6" text-anchor="middle" fill="#111" stroke="#111" stroke-width="0.32">360 s</text>
<path d="M298.40,459.40 L299.40,459.12 L301.00,458.68 L302.37,457.94 L303.98,455.91 L305.80,455.71 L306.82,456.48 L307.94,457.04 L309.11,458.85 L310.29,460.55 L311.44,462.36 L312.50,462.97 L313.35,464.50 L314.18,465.54 L314.98,467.82 L315.75,469.04 L316.50,469.57 L317.21,472.17 L317.90,473.50 L318.64,474.60 L319.31,475.98 L319.95,476.82 L320.57,478.14 L321.21,480.46 L321.90,481.73 L322.31,483.13 L322.69,484.49 L323.06,485.56 L323.42,487.52 L323.81,488.94 L324.22,490.96 L324.68,492.10 L325.21,493.88 L325.81,495.37 L326.50,497.31 L327.03,498.26 L327.61,499.32 L328.24,501.60 L328.90,503.00 L329.60,504.24 L330.33,505.53 L331.07,506.50 L331.83,507.86 L332.59,509.40 L333.34,510.56 L334.08,512.86 L334.81,513.74 L335.51,515.61 L336.17,516.22 L336.80,518.10 L337.76,519.66 L338.63,520.10 L339.44,521.77 L340.23,523.98 L341.01,524.64 L341.81,526.49 L342.66,526.91 L343.58,527.69 L344.60,529.67 L345.60,531.03 L346.67,531.55 L347.78,532.50 L348.93,533.99 L350.12,535.98 L351.33,536.86 L352.55,537.15 L353.77,538.41 L354.99,539.27 L356.20,540.23 L357.54,542.27 L358.90,542.52 L360.28,544.04 L361.66,544.88 L363.05,545.50 L364.43,547.11 L365.81,547.18 L367.16,548.64 L368.50,548.70 L369.97,549.84 L371.42,550.22 L372.85,550.87 L374.27,552.31 L375.69,552.57 L377.11,552.39 L378.54,553.61 L380.00,553.22 L381.44,553.97 L382.82,555.06 L384.20,555.27 L385.59,555.04 L387.04,556.65 L388.57,556.09 L390.21,556.58 L392.00,557.65 L393.28,557.34 L394.63,557.55 L396.03,557.50 L397.48,557.75 L398.97,558.62 L400.50,558.40 L402.05,559.08 L403.63,558.99 L405.22,559.31 L406.81,560.18 L408.41,559.77 L410.00,560.10 L411.47,560.67 L412.97,559.98 L414.48,560.13 L416.01,561.31 L417.55,561.38 L419.10,560.83 L420.65,560.94 L422.22,561.84 L423.78,562.28 L425.34,561.49 L426.90,562.65 L428.46,562.73 L430.00,562.53 L431.53,562.46 L433.04,562.21 L434.53,562.28 L436.02,563.63 L437.51,562.84 L439.00,563.59 L440.50,563.15 L442.02,564.03 L443.55,563.87 L445.11,563.62 L446.70,563.60 L448.33,564.45 L450.00,563.74 L451.43,564.06 L452.97,564.61 L454.60,565.11 L456.28,564.93 L458.01,564.62 L459.76,565.57 L461.52,564.76 L463.25,564.64 L464.95,565.08 L466.58,565.43 L468.14,565.03 L469.59,565.28 L470.93,565.62 L472.12,565.96 L473.15,565.46 L474.00,566.00 " fill="none" stroke="#111" stroke-width="1.35" stroke-linejoin="round" stroke-linecap="round"/>
<path d="M298.40,459.40 L299.40,459.15 L301.00,458.80 L302.37,457.61 L303.98,455.49 L305.80,455.06 L306.82,456.20 L307.94,457.15 L309.11,459.23 L310.29,460.63 L311.44,462.12 L312.50,463.58 L313.35,464.97 L314.18,465.61 L314.98,467.34 L315.75,468.35 L316.50,470.70 L317.21,470.97 L317.90,473.31 L318.60,473.85 L319.18,476.06 L319.72,477.03 L320.30,478.61 L321.00,480.84 L321.90,481.67 L322.49,482.89 L323.15,485.24 L323.86,486.02 L324.61,486.83 L325.40,489.41 L326.21,490.79 L327.02,491.17 L327.84,493.04 L328.65,494.13 L329.44,495.82 L330.20,497.66 L330.94,498.50 L331.68,500.66 L332.41,501.32 L333.14,502.98 L333.87,505.33 L334.59,506.29 L335.32,507.80 L336.04,509.49 L336.76,510.76 L337.48,512.02 L338.20,512.89 L339.06,515.34 L339.90,517.15 L340.73,518.60 L341.55,519.59 L342.38,520.55 L343.23,521.90 L344.11,523.64 L345.03,524.92 L346.00,525.50 L346.91,526.82 L347.85,528.15 L348.82,529.48 L349.81,531.00 L350.82,531.71 L351.85,532.19 L352.91,534.30 L353.99,534.85 L355.08,536.00 L356.20,536.64 L357.35,537.92 L358.54,538.88 L359.76,540.39 L361.01,540.51 L362.27,542.06 L363.54,542.52 L364.80,544.09 L366.06,544.08 L367.29,545.18 L368.50,546.00 L369.97,547.16 L371.42,547.05 L372.85,548.13 L374.27,548.29 L375.69,548.85 L377.11,549.59 L378.54,550.76 L380.00,550.78 L381.28,552.04 L382.52,551.71 L383.74,553.42 L384.97,553.45 L386.23,553.99 L387.54,555.47 L388.92,556.44 L390.40,555.98 L392.00,557.00 L393.28,558.14 L394.63,558.07 L396.03,558.41 L397.48,558.58 L398.97,559.08 L400.50,560.29 L402.05,561.20 L403.63,561.65 L405.22,561.43 L406.81,561.21 L408.41,561.99 L410.00,562.97 L411.47,563.36 L412.97,563.42 L414.48,563.18 L416.01,563.85 L417.55,564.05 L419.10,564.50 L420.65,564.28 L422.22,565.42 L423.78,565.61 L425.34,564.92 L426.90,565.35 L428.46,566.39 L430.00,565.91 L431.53,567.09 L433.04,566.85 L434.53,567.41 L436.02,567.75 L437.51,567.44 L439.00,567.88 L440.50,568.18 L442.02,569.07 L443.55,569.43 L445.11,569.04 L446.70,570.35 L448.33,570.07 L450.00,570.16 L451.43,570.68 L452.97,571.67 L454.60,571.40 L456.28,571.78 L458.01,572.45 L459.76,572.80 L461.52,572.82 L463.25,572.66 L464.95,573.16 L466.58,573.83 L468.14,573.93 L469.59,573.89 L470.93,573.80 L472.12,574.02 L473.15,574.67 L474.00,574.50 " fill="none" stroke="#111" stroke-width="1.35" stroke-linejoin="round" stroke-linecap="round"/>
<text x="495.9" y="568.4" font-family='"Liberation Serif", serif' font-weight="bold" font-size="9.6" text-anchor="middle" fill="#111" stroke="#111" stroke-width="0.32">20</text>
<text x="496.6" y="579.6" font-family='"Liberation Serif", serif' font-weight="bold" font-size="9.6" text-anchor="middle" fill="#111" stroke="#111" stroke-width="0.32">0</text>
<line x1="299.4" y1="62.82000000000002" x2="299.4" y2="162.3" stroke="#727272" stroke-width="1.25"/>
<line x1="299.4" y1="162.3" x2="474.3" y2="162.3" stroke="#727272" stroke-width="1.25"/>
<line x1="297.09999999999997" y1="162.3" x2="299.4" y2="162.3" stroke="#444" stroke-width="1.0"/>
<text x="292.6" y="166.3" font-family='"Liberation Serif", serif' font-weight="bold" font-size="9.6" text-anchor="end" fill="#111" stroke="#111" stroke-width="0.32">0</text>
<line x1="297.09999999999997" y1="145.72000000000003" x2="299.4" y2="145.72000000000003" stroke="#444" stroke-width="1.0"/>
<text x="294.6" y="149.02000000000004" font-family='"Liberation Serif", serif' font-weight="bold" font-size="9.6" text-anchor="end" fill="#111" stroke="#111" stroke-width="0.32">20</text>
<line x1="297.09999999999997" y1="129.14000000000001" x2="299.4" y2="129.14000000000001" stroke="#444" stroke-width="1.0"/>
<text x="294.6" y="132.44000000000003" font-family='"Liberation Serif", serif' font-weight="bold" font-size="9.6" text-anchor="end" fill="#111" stroke="#111" stroke-width="0.32">40</text>
<line x1="297.09999999999997" y1="112.56000000000002" x2="299.4" y2="112.56000000000002" stroke="#444" stroke-width="1.0"/>
<text x="294.6" y="115.86000000000001" font-family='"Liberation Serif", serif' font-weight="bold" font-size="9.6" text-anchor="end" fill="#111" stroke="#111" stroke-width="0.32">60</text>
<line x1="297.09999999999997" y1="95.98000000000002" x2="299.4" y2="95.98000000000002" stroke="#444" stroke-width="1.0"/>
<text x="294.6" y="99.28000000000002" font-family='"Liberation Serif", serif' font-weight="bold" font-size="9.6" text-anchor="end" fill="#111" stroke="#111" stroke-width="0.32">80</text>
<line x1="297.09999999999997" y1="79.40000000000002" x2="299.4" y2="79.40000000000002" stroke="#444" stroke-width="1.0"/>
<text x="294.6" y="82.70000000000002" font-family='"Liberation Serif", serif' font-weight="bold" font-size="9.6" text-anchor="end" fill="#111" stroke="#111" stroke-width="0.32">100</text>
<line x1="297.09999999999997" y1="62.82000000000002" x2="299.4" y2="62.82000000000002" stroke="#444" stroke-width="1.0"/>
<text x="294.6" y="66.12000000000002" font-family='"Liberation Serif", serif' font-weight="bold" font-size="9.6" text-anchor="end" fill="#111" stroke="#111" stroke-width="0.32">120</text>
<line x1="328.87999999999994" y1="162.3" x2="328.87999999999994" y2="164.8" stroke="#727272" stroke-width="1.0"/>
<line x1="357.84" y1="162.3" x2="357.84" y2="164.8" stroke="#727272" stroke-width="1.0"/>
<line x1="386.79999999999995" y1="162.3" x2="386.79999999999995" y2="164.8" stroke="#727272" stroke-width="1.0"/>
<line x1="415.76" y1="162.3" x2="415.76" y2="164.8" stroke="#727272" stroke-width="1.0"/>
<line x1="444.71999999999997" y1="162.3" x2="444.71999999999997" y2="164.8" stroke="#727272" stroke-width="1.0"/>
<line x1="473.67999999999995" y1="162.3" x2="473.67999999999995" y2="164.8" stroke="#727272" stroke-width="1.0"/>
<rect x="308.30" y="79.40" width="12.20" height="82.90" fill="#050505"/>
<text x="314.4" y="173.6" font-family='"Liberation Serif", serif' font-weight="bold" font-size="9.6" text-anchor="middle" fill="#111" stroke="#111" stroke-width="0.32">0</text>
<rect x="337.26" y="79.40" width="12.20" height="82.90" fill="#050505"/>
<text x="343.35999999999996" y="173.6" font-family='"Liberation Serif", serif' font-weight="bold" font-size="9.6" text-anchor="middle" fill="#111" stroke="#111" stroke-width="0.32">1</text>
<rect x="366.22" y="83.79" width="12.20" height="78.51" fill="#050505"/>
<line x1="372.32" y1="80.31190000000001" x2="372.32" y2="83.79370000000002" stroke="#111" stroke-width="1.0"/>
<line x1="371.12" y1="80.31190000000001" x2="373.52" y2="80.31190000000001" stroke="#111" stroke-width="1.0"/>
<text x="372.32" y="173.6" font-family='"Liberation Serif", serif' font-weight="bold" font-size="9.6" text-anchor="middle" fill="#111" stroke="#111" stroke-width="0.32">3</text>
<rect x="395.18" y="96.23" width="12.20" height="66.07" fill="#050505"/>
<line x1="401.28" y1="81.47250000000001" x2="401.28" y2="96.22870000000002" stroke="#111" stroke-width="1.0"/>
<line x1="400.08" y1="81.47250000000001" x2="402.47999999999996" y2="81.47250000000001" stroke="#111" stroke-width="1.0"/>
<text x="401.28" y="173.6" font-family='"Liberation Serif", serif' font-weight="bold" font-size="9.6" text-anchor="middle" fill="#111" stroke="#111" stroke-width="0.32">5</text>
<rect x="424.14" y="111.48" width="12.20" height="50.82" fill="#050505"/>
<line x1="430.24" y1="106.17670000000001" x2="430.24" y2="111.48230000000001" stroke="#111" stroke-width="1.0"/>
<line x1="429.04" y1="106.17670000000001" x2="431.44" y2="106.17670000000001" stroke="#111" stroke-width="1.0"/>
<text x="430.24" y="173.6" font-family='"Liberation Serif", serif' font-weight="bold" font-size="9.6" text-anchor="middle" fill="#111" stroke="#111" stroke-width="0.32">10</text>
<rect x="453.10" y="135.69" width="12.20" height="26.61" fill="#050505"/>
<line x1="459.2" y1="121.67900000000002" x2="459.2" y2="135.6891" stroke="#111" stroke-width="1.0"/>
<line x1="458.0" y1="121.67900000000002" x2="460.4" y2="121.67900000000002" stroke="#111" stroke-width="1.0"/>
<text x="459.2" y="173.6" font-family='"Liberation Serif", serif' font-weight="bold" font-size="9.6" text-anchor="middle" fill="#111" stroke="#111" stroke-width="0.32">20</text>
<polygon points="427.30,99.50 428.04,101.28 429.96,101.43 428.50,102.69 428.95,104.57 427.30,103.56 425.65,104.57 426.10,102.69 424.64,101.43 426.56,101.28" fill="#555"/>
<polygon points="433.30,99.50 434.04,101.28 435.96,101.43 434.50,102.69 434.95,104.57 433.30,103.56 431.65,104.57 432.10,102.69 430.64,101.43 432.56,101.28" fill="#555"/>
<polygon points="459.20,113.50 459.94,115.28 461.86,115.43 460.40,116.69 460.85,118.57 459.20,117.56 457.55,118.57 458.00,116.69 456.54,115.43 458.46,115.28" fill="#555"/>
<text x="382.9" y="185.3" font-family='"Liberation Serif", serif' font-weight="bold" font-size="9.6" text-anchor="middle" fill="#111" stroke="#111" stroke-width="0.32">[GW3965] (µM)</text>
<text x="272.9" y="115.9" font-family='"Liberation Serif", serif' font-weight="bold" font-size="9.9" text-anchor="middle" fill="#111" stroke="#111" stroke-width="0.32" transform="rotate(-90 272.9 115.9)">% of Aggregation</text>
<line x1="299.0" y1="272.96" x2="299.0" y2="366.2" stroke="#727272" stroke-width="1.25"/>
<line x1="299.0" y1="366.2" x2="470.5" y2="366.2" stroke="#727272" stroke-width="1.25"/>
<line x1="296.7" y1="366.2" x2="299.0" y2="366.2" stroke="#444" stroke-width="1.0"/>
<text x="292.6" y="370.2" font-family='"Liberation Serif", serif' font-weight="bold" font-size="9.6" text-anchor="end" fill="#111" stroke="#111" stroke-width="0.32">0</text>
<line x1="296.7" y1="350.65999999999997" x2="299.0" y2="350.65999999999997" stroke="#444" stroke-width="1.0"/>
<text x="294.6" y="353.96" font-family='"Liberation Serif", serif' font-weight="bold" font-size="9.6" text-anchor="end" fill="#111" stroke="#111" stroke-width="0.32">20</text>
<line x1="296.7" y1="335.12" x2="299.0" y2="335.12" stroke="#444" stroke-width="1.0"/>
<text x="294.6" y="338.42" font-family='"Liberation Serif", serif' font-weight="bold" font-size="9.6" text-anchor="end" fill="#111" stroke="#111" stroke-width="0.32">40</text>
<line x1="296.7" y1="319.58" x2="299.0" y2="319.58" stroke="#444" stroke-width="1.0"/>
<text x="294.6" y="322.88" font-family='"Liberation Serif", serif' font-weight="bold" font-size="9.6" text-anchor="end" fill="#111" stroke="#111" stroke-width="0.32">60</text>
<line x1="296.7" y1="304.03999999999996" x2="299.0" y2="304.03999999999996" stroke="#444" stroke-width="1.0"/>
<text x="294.6" y="307.34" font-family='"Liberation Serif", serif' font-weight="bold" font-size="9.6" text-anchor="end" fill="#111" stroke="#111" stroke-width="0.32">80</text>
<line x1="296.7" y1="288.5" x2="299.0" y2="288.5" stroke="#444" stroke-width="1.0"/>
<text x="294.6" y="291.8" font-family='"Liberation Serif", serif' font-weight="bold" font-size="9.6" text-anchor="end" fill="#111" stroke="#111" stroke-width="0.32">100</text>
<line x1="296.7" y1="272.96" x2="299.0" y2="272.96" stroke="#444" stroke-width="1.0"/>
<text x="294.6" y="276.26" font-family='"Liberation Serif", serif' font-weight="bold" font-size="9.6" text-anchor="end" fill="#111" stroke="#111" stroke-width="0.32">120</text>
<line x1="328.65" y1="366.2" x2="328.65" y2="368.7" stroke="#727272" stroke-width="1.0"/>
<line x1="357.55" y1="366.2" x2="357.55" y2="368.7" stroke="#727272" stroke-width="1.0"/>
<line x1="386.45" y1="366.2" x2="386.45" y2="368.7" stroke="#727272" stroke-width="1.0"/>
<line x1="415.35" y1="366.2" x2="415.35" y2="368.7" stroke="#727272" stroke-width="1.0"/>
<line x1="444.25" y1="366.2" x2="444.25" y2="368.7" stroke="#727272" stroke-width="1.0"/>
<line x1="473.15" y1="366.2" x2="473.15" y2="368.7" stroke="#727272" stroke-width="1.0"/>
<rect x="308.20" y="288.50" width="12.00" height="77.70" fill="#050505"/>
<text x="314.2" y="377.2" font-family='"Liberation Serif", serif' font-weight="bold" font-size="9.6" text-anchor="middle" fill="#111" stroke="#111" stroke-width="0.32">0</text>
<rect x="337.10" y="290.44" width="12.00" height="75.76" fill="#050505"/>
<line x1="343.09999999999997" y1="287.72299999999996" x2="343.09999999999997" y2="290.4425" stroke="#111" stroke-width="1.0"/>
<line x1="341.9" y1="287.72299999999996" x2="344.29999999999995" y2="287.72299999999996" stroke="#111" stroke-width="1.0"/>
<text x="343.09999999999997" y="377.2" font-family='"Liberation Serif", serif' font-weight="bold" font-size="9.6" text-anchor="middle" fill="#111" stroke="#111" stroke-width="0.32">10</text>
<rect x="366.00" y="297.05" width="12.00" height="69.15" fill="#050505"/>
<line x1="372.0" y1="292.7735" x2="372.0" y2="297.04699999999997" stroke="#111" stroke-width="1.0"/>
<line x1="370.8" y1="292.7735" x2="373.2" y2="292.7735" stroke="#111" stroke-width="1.0"/>
<text x="372.0" y="377.2" font-family='"Liberation Serif", serif' font-weight="bold" font-size="9.6" text-anchor="middle" fill="#111" stroke="#111" stroke-width="0.32">20</text>
<rect x="394.90" y="299.77" width="12.00" height="66.43" fill="#050505"/>
<line x1="400.9" y1="296.6585" x2="400.9" y2="299.7665" stroke="#111" stroke-width="1.0"/>
<line x1="399.7" y1="296.6585" x2="402.09999999999997" y2="296.6585" stroke="#111" stroke-width="1.0"/>
<text x="400.9" y="377.2" font-family='"Liberation Serif", serif' font-weight="bold" font-size="9.6" text-anchor="middle" fill="#111" stroke="#111" stroke-width="0.32">30</text>
<rect x="423.80" y="301.71" width="12.00" height="64.49" fill="#050505"/>
<line x1="429.79999999999995" y1="298.601" x2="429.79999999999995" y2="301.709" stroke="#111" stroke-width="1.0"/>
<line x1="428.59999999999997" y1="298.601" x2="430.99999999999994" y2="298.601" stroke="#111" stroke-width="1.0"/>
<text x="429.79999999999995" y="377.2" font-family='"Liberation Serif", serif' font-weight="bold" font-size="9.6" text-anchor="middle" fill="#111" stroke="#111" stroke-width="0.32">40</text>
<rect x="452.70" y="306.37" width="12.00" height="59.83" fill="#050505"/>
<line x1="458.7" y1="303.6515" x2="458.7" y2="306.371" stroke="#111" stroke-width="1.0"/>
<line x1="457.5" y1="303.6515" x2="459.9" y2="303.6515" stroke="#111" stroke-width="1.0"/>
<text x="458.7" y="377.2" font-family='"Liberation Serif", serif' font-weight="bold" font-size="9.6" text-anchor="middle" fill="#111" stroke="#111" stroke-width="0.32">50</text>
<polygon points="400.90,290.50 401.64,292.28 403.56,292.43 402.10,293.69 402.55,295.57 400.90,294.56 399.25,295.57 399.70,293.69 398.24,292.43 400.16,292.28" fill="#555"/>
<polygon points="430.30,292.20 431.04,293.98 432.96,294.13 431.50,295.39 431.95,297.27 430.30,296.26 428.65,297.27 429.10,295.39 427.64,294.13 429.56,293.98" fill="#555"/>
<polygon points="455.00,297.70 455.74,299.48 457.66,299.63 456.20,300.89 456.65,302.77 455.00,301.76 453.35,302.77 453.80,300.89 452.34,299.63 454.26,299.48" fill="#555"/>
<polygon points="461.20,297.70 461.94,299.48 463.86,299.63 462.40,300.89 462.85,302.77 461.20,301.76 459.55,302.77 460.00,300.89 458.54,299.63 460.46,299.48" fill="#555"/>
<text x="398.2" y="390.8" font-family='"Liberation Serif", serif' font-weight="bold" font-size="9.6" text-anchor="middle" fill="#111" stroke="#111" stroke-width="0.32">[T0901317] (µM)</text>
<text x="271.9" y="320.1" font-family='"Liberation Serif", serif' font-weight="bold" font-size="9.9" text-anchor="middle" fill="#111" stroke="#111" stroke-width="0.32" transform="rotate(-90 271.9 320.1)">% of Aggregation</text>
<line x1="30.2" y1="667.7" x2="30.2" y2="763.6" stroke="#727272" stroke-width="1.3"/>
<line x1="30.2" y1="763.6" x2="200.8" y2="763.6" stroke="#727272" stroke-width="1.3"/>
<line x1="27.7" y1="763.8" x2="30.2" y2="763.8" stroke="#727272" stroke-width="1.0"/>
<text x="26.7" y="768.4" font-family='"Liberation Serif", serif' font-weight="bold" font-size="9.9" text-anchor="end" fill="#111" stroke="#111" stroke-width="0.32">0</text>
<line x1="27.7" y1="747.78" x2="30.2" y2="747.78" stroke="#727272" stroke-width="1.0"/>
<text x="26.7" y="752.38" font-family='"Liberation Serif", serif' font-weight="bold" font-size="9.9" text-anchor="end" fill="#111" stroke="#111" stroke-width="0.32">2</text>
<line x1="27.7" y1="731.76" x2="30.2" y2="731.76" stroke="#727272" stroke-width="1.0"/>
<text x="26.7" y="736.36" font-family='"Liberation Serif", serif' font-weight="bold" font-size="9.9" text-anchor="end" fill="#111" stroke="#111" stroke-width="0.32">4</text>
<line x1="27.7" y1="715.74" x2="30.2" y2="715.74" stroke="#727272" stroke-width="1.0"/>
<text x="26.7" y="720.34" font-family='"Liberation Serif", serif' font-weight="bold" font-size="9.9" text-anchor="end" fill="#111" stroke="#111" stroke-width="0.32">6</text>
<line x1="27.7" y1="699.7199999999999" x2="30.2" y2="699.7199999999999" stroke="#727272" stroke-width="1.0"/>
<text x="26.7" y="704.3199999999999" font-family='"Liberation Serif", serif' font-weight="bold" font-size="9.9" text-anchor="end" fill="#111" stroke="#111" stroke-width="0.32">8</text>
<line x1="27.7" y1="683.6999999999999" x2="30.2" y2="683.6999999999999" stroke="#727272" stroke-width="1.0"/>
<text x="26.7" y="688.3" font-family='"Liberation Serif", serif' font-weight="bold" font-size="9.9" text-anchor="end" fill="#111" stroke="#111" stroke-width="0.32">10</text>
<line x1="27.7" y1="667.68" x2="30.2" y2="667.68" stroke="#727272" stroke-width="1.0"/>
<text x="26.7" y="672.28" font-family='"Liberation Serif", serif' font-weight="bold" font-size="9.9" text-anchor="end" fill="#111" stroke="#111" stroke-width="0.32">12</text>
<line x1="64.1" y1="763.8" x2="64.1" y2="766.3" stroke="#727272" stroke-width="1.0"/>
<text x="66.3" y="775.4" font-family='"Liberation Serif", serif' font-weight="bold" font-size="9.8" text-anchor="middle" fill="#111" stroke="#111" stroke-width="0.32">0.02</text>
<line x1="98.2" y1="763.8" x2="98.2" y2="766.3" stroke="#727272" stroke-width="1.0"/>
<text x="97.0" y="775.4" font-family='"Liberation Serif", serif' font-weight="bold" font-size="9.8" text-anchor="middle" fill="#111" stroke="#111" stroke-width="0.32">0.04</text>
<line x1="132.3" y1="763.8" x2="132.3" y2="766.3" stroke="#727272" stroke-width="1.0"/>
<text x="131.6" y="775.4" font-family='"Liberation Serif", serif' font-weight="bold" font-size="9.8" text-anchor="middle" fill="#111" stroke="#111" stroke-width="0.32">0.06</text>
<line x1="166.4" y1="763.8" x2="166.4" y2="766.3" stroke="#727272" stroke-width="1.0"/>
<text x="166.9" y="775.4" font-family='"Liberation Serif", serif' font-weight="bold" font-size="9.8" text-anchor="middle" fill="#111" stroke="#111" stroke-width="0.32">0.08</text>
<line x1="200.5" y1="763.8" x2="200.5" y2="766.3" stroke="#727272" stroke-width="1.0"/>
<text x="200.8" y="775.4" font-family='"Liberation Serif", serif' font-weight="bold" font-size="9.8" text-anchor="middle" fill="#111" stroke="#111" stroke-width="0.32">0.1</text>
<text x="126.2" y="795.6" font-family='"Liberation Serif", serif' font-weight="bold" font-size="9.8" text-anchor="middle" fill="#111" stroke="#111" stroke-width="0.32">[Thrombin] (U/ml)</text>
<text x="13.9" y="719.0" font-family='"Liberation Serif", serif' font-weight="bold" font-size="9.7" text-anchor="middle" fill="#111" stroke="#111" stroke-width="0.32" transform="rotate(-90 13.9 719.0)">Amplitude of Aggregation (cm)</text>
<text x="219.8" y="657.2" font-family='"Liberation Serif", serif' font-weight="bold" font-size="9.6" text-anchor="middle" fill="#111" stroke="#111" stroke-width="0.32">[GW3965]</text>
<text x="220.6" y="668.7" font-family='"Liberation Serif", serif' font-weight="bold" font-size="9.6" text-anchor="middle" fill="#111" stroke="#111" stroke-width="0.32">(µM)</text>
<text x="220.8" y="677.6" font-family='"Liberation Serif", serif' font-weight="bold" font-size="9.6" text-anchor="middle" fill="#111" stroke="#111" stroke-width="0.32">0</text>
<text x="220.6" y="689.3" font-family='"Liberation Serif", serif' font-weight="bold" font-size="9.6" text-anchor="middle" fill="#111" stroke="#111" stroke-width="0.32">20</text>
<path d="M30.00,763.80 C38.58,758.67 70.08,743.05 81.50,733.00 C92.92,722.95 90.03,709.18 98.50,703.50 C106.97,697.82 120.97,700.87 132.30,698.90 C143.63,696.93 155.08,694.18 166.50,691.70 C177.92,689.22 195.08,685.28 200.80,684.00" fill="none" stroke="#8c8c8c" stroke-width="1.2" stroke-linejoin="round" stroke-linecap="round"/>
<path d="M30.00,763.80 C35.15,758.16 74.65,714.70 81.50,707.40 C88.35,700.10 93.42,692.78 98.50,690.80 C103.58,688.82 125.50,688.35 132.30,687.60 C139.10,686.85 159.65,684.04 166.50,683.30 C173.35,682.56 197.37,680.51 200.80,680.20" fill="none" stroke="#0a0a0a" stroke-width="1.65" stroke-linejoin="round" stroke-linecap="round"/>
<line x1="81.5" y1="700.5" x2="81.5" y2="707.4" stroke="#222" stroke-width="1.0"/>
<line x1="80.4" y1="700.5" x2="82.6" y2="700.5" stroke="#222" stroke-width="1.0"/>
<line x1="98.5" y1="685.7" x2="98.5" y2="690.8" stroke="#222" stroke-width="1.0"/>
<line x1="97.4" y1="685.7" x2="99.6" y2="685.7" stroke="#222" stroke-width="1.0"/>
<line x1="132.3" y1="683.5" x2="132.3" y2="687.7" stroke="#222" stroke-width="1.0"/>
<line x1="131.20000000000002" y1="683.5" x2="133.4" y2="683.5" stroke="#222" stroke-width="1.0"/>
<line x1="166.5" y1="681.5" x2="166.5" y2="683.5" stroke="#222" stroke-width="1.0"/>
<line x1="165.4" y1="681.5" x2="167.6" y2="681.5" stroke="#222" stroke-width="1.0"/>
<line x1="98.5" y1="699.2" x2="98.5" y2="703.5" stroke="#555" stroke-width="1.0"/>
<line x1="97.4" y1="699.2" x2="99.6" y2="699.2" stroke="#555" stroke-width="1.0"/>
<line x1="132.3" y1="691.5" x2="132.3" y2="698.9" stroke="#555" stroke-width="1.0"/>
<line x1="131.20000000000002" y1="691.5" x2="133.4" y2="691.5" stroke="#555" stroke-width="1.0"/>
<line x1="166.5" y1="688.5" x2="166.5" y2="691.7" stroke="#555" stroke-width="1.0"/>
<line x1="165.4" y1="688.5" x2="167.6" y2="688.5" stroke="#555" stroke-width="1.0"/>
<circle cx="81.5" cy="707.4" r="1.4" fill="#111"/>
<circle cx="98.5" cy="690.8" r="1.4" fill="#111"/>
<circle cx="132.3" cy="687.6" r="1.4" fill="#111"/>
<circle cx="166.5" cy="683.3" r="1.4" fill="#111"/>
<circle cx="200.8" cy="680.2" r="1.4" fill="#111"/>
<rect x="80.2" y="731.7" width="2.6" height="2.6" fill="#777"/>
<rect x="97.2" y="702.2" width="2.6" height="2.6" fill="#777"/>
<rect x="131.0" y="697.6" width="2.6" height="2.6" fill="#777"/>
<rect x="165.2" y="690.4000000000001" width="2.6" height="2.6" fill="#777"/>
<rect x="199.5" y="682.7" width="2.6" height="2.6" fill="#777"/>
<polygon points="77.00,724.40 77.69,726.05 79.47,726.20 78.11,727.36 78.53,729.10 77.00,728.17 75.47,729.10 75.89,727.36 74.53,726.20 76.31,726.05" fill="#666"/>
<polygon points="82.60,724.40 83.29,726.05 85.07,726.20 83.71,727.36 84.13,729.10 82.60,728.17 81.07,729.10 81.49,727.36 80.13,726.20 81.91,726.05" fill="#666"/>
<polygon points="98.50,693.00 99.13,694.53 100.78,694.66 99.53,695.73 99.91,697.34 98.50,696.48 97.09,697.34 97.47,695.73 96.22,694.66 97.87,694.53" fill="#666"/>
<polygon points="132.30,690.40 132.93,691.93 134.58,692.06 133.33,693.13 133.71,694.74 132.30,693.88 130.89,694.74 131.27,693.13 130.02,692.06 131.67,691.93" fill="#666"/>
<polygon points="166.50,684.80 167.08,686.20 168.59,686.32 167.44,687.31 167.79,688.78 166.50,687.99 165.21,688.78 165.56,687.31 164.41,686.32 165.92,686.20" fill="#666"/>
<line x1="298.5" y1="678.4" x2="298.5" y2="764" stroke="#727272" stroke-width="1.4"/>
<line x1="298.5" y1="764" x2="463.3" y2="764" stroke="#727272" stroke-width="1.4"/>
<line x1="296.3" y1="764.0" x2="298.5" y2="764.0" stroke="#444" stroke-width="1.0"/>
<text x="294.2" y="767.4" font-family='"Liberation Serif", serif' font-weight="bold" font-size="9.6" text-anchor="end" fill="#111" stroke="#111" stroke-width="0.32">0</text>
<line x1="296.3" y1="742.6" x2="298.5" y2="742.6" stroke="#444" stroke-width="1.0"/>
<text x="294.2" y="746.0" font-family='"Liberation Serif", serif' font-weight="bold" font-size="9.6" text-anchor="end" fill="#111" stroke="#111" stroke-width="0.32">10</text>
<line x1="296.3" y1="721.2" x2="298.5" y2="721.2" stroke="#444" stroke-width="1.0"/>
<text x="294.2" y="724.6" font-family='"Liberation Serif", serif' font-weight="bold" font-size="9.6" text-anchor="end" fill="#111" stroke="#111" stroke-width="0.32">20</text>
<line x1="296.3" y1="699.8" x2="298.5" y2="699.8" stroke="#444" stroke-width="1.0"/>
<text x="294.2" y="703.1999999999999" font-family='"Liberation Serif", serif' font-weight="bold" font-size="9.6" text-anchor="end" fill="#111" stroke="#111" stroke-width="0.32">30</text>
<line x1="296.3" y1="678.4" x2="298.5" y2="678.4" stroke="#444" stroke-width="1.0"/>
<text x="294.2" y="681.8" font-family='"Liberation Serif", serif' font-weight="bold" font-size="9.6" text-anchor="end" fill="#111" stroke="#111" stroke-width="0.32">40</text>
<line x1="381" y1="764" x2="381" y2="766.5" stroke="#727272" stroke-width="1.0"/>
<line x1="463.3" y1="764" x2="463.3" y2="766.5" stroke="#727272" stroke-width="1.0"/>
<rect x="324" y="711.2" width="32.5" height="52.8" fill="#050505"/>
<line x1="340.3" y1="690" x2="340.3" y2="711.2" stroke="#111" stroke-width="1.0"/>
<line x1="339.0" y1="690" x2="341.6" y2="690" stroke="#111" stroke-width="1.0"/>
<rect x="406.2" y="761.6" width="32.8" height="2.4" fill="#050505"/>
<line x1="422.6" y1="759" x2="422.6" y2="761.6" stroke="#111" stroke-width="1.0"/>
<line x1="337.5" y1="675.9" x2="435.5" y2="675.9" stroke="#111" stroke-width="1.8"/>
<polygon points="381.40,669.00 382.09,670.65 383.87,670.80 382.51,671.96 382.93,673.70 381.40,672.77 379.87,673.70 380.29,671.96 378.93,670.80 380.71,670.65" fill="#444"/>
<text x="338.9" y="777.0" font-family='"Liberation Serif", serif' font-weight="bold" font-size="9.6" text-anchor="middle" fill="#111" stroke="#111" stroke-width="0.32">0</text>
<text x="420.2" y="777.0" font-family='"Liberation Serif", serif' font-weight="bold" font-size="9.6" text-anchor="middle" fill="#111" stroke="#111" stroke-width="0.32">20</text>
<text x="388.6" y="792.5" font-family='"Liberation Serif", serif' font-weight="bold" font-size="9.6" text-anchor="middle" fill="#111" stroke="#111" stroke-width="0.32">[GW3965] (µM)</text>
<text x="276.4" y="719.3" font-family='"Liberation Serif", serif' font-weight="bold" font-size="9.6" text-anchor="middle" fill="#111" stroke="#111" stroke-width="0.32" transform="rotate(-90 276.4 719.3)">Fluorescence (AU)</text>
</svg>
</body></html>
